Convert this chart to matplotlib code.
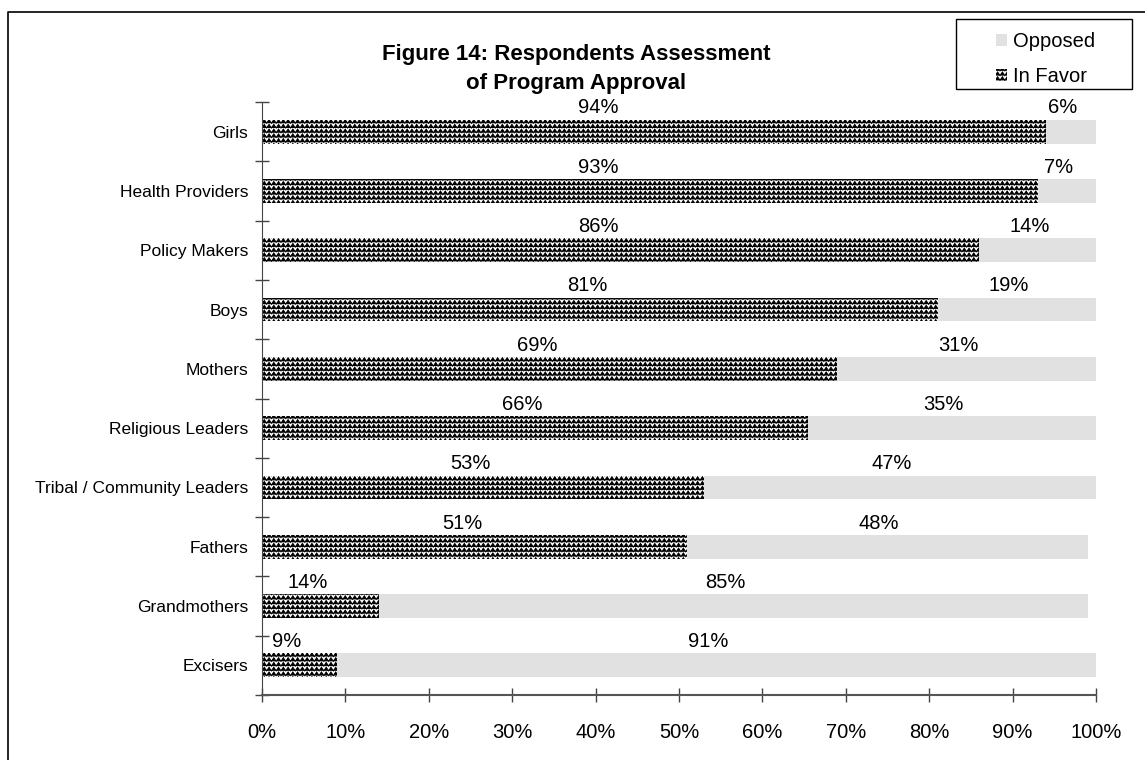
import warnings
import numpy as np
import matplotlib
matplotlib.use("Agg")
import matplotlib.pyplot as plt
import matplotlib.hatch as mhatch
from matplotlib.path import Path
from matplotlib.lines import Line2D
from matplotlib.patches import Rectangle

warnings.filterwarnings("ignore")

# Data (bottom to top)
groups = ["Excisers", "Grandmothers", "Fathers", "Tribal / Community Leaders",
          "Religious Leaders", "Mothers", "Boys", "Policy Makers",
          "Health Providers", "Girls"]
in_favor = [9, 14, 51, 53, 65.5, 69, 81, 86, 93, 94]
opposed = [91, 85, 48, 47, 34.5, 31, 19, 14, 7, 6]
xticks = [0, 10, 20, 30, 40, 50, 60, 70, 80, 90, 100]


# zigzag hatch like the old Excel fill pattern
class ZigZag(mhatch.HatchPatternBase):
    def __init__(self, hatch, density):
        self.num_lines = int(hatch.count('z') * density * 7 / 6)
        self.num_peaks = self.num_lines
        self.num_vertices = self.num_lines * (2 * self.num_peaks + 1)

    def set_vertices_and_codes(self, vertices, codes):
        n = self.num_lines
        k = self.num_peaks
        amp = 0.38 / n
        xs = np.linspace(0, 1, 2 * k + 1)
        ys = np.where(np.arange(2 * k + 1) % 2 == 0, -amp, amp)
        m = 2 * k + 1
        for i in range(n):
            y0 = (i + 0.5) / n
            vertices[i * m:(i + 1) * m, 0] = xs
            vertices[i * m:(i + 1) * m, 1] = y0 + ys
            codes[i * m] = Path.MOVETO
            codes[i * m + 1:(i + 1) * m] = Path.LINETO


mhatch._hatch_types.append(ZigZag)

plt.rcParams['font.family'] = ['Liberation Sans', 'DejaVu Sans']
plt.rcParams['hatch.linewidth'] = 0.75

fig = plt.figure(figsize=(11.45, 7.6), dpi=100)
ax = fig.add_axes([262 / 1145, 1 - 695 / 760, (1096 - 262) / 1145, (695 - 102) / 760])

y = np.arange(len(groups))
b1 = ax.barh(y, in_favor, height=0.4, color='white', edgecolor='black',
             linewidth=0, hatch='zzz', label='In Favor')
b2 = ax.barh(y, opposed, left=in_favor, height=0.4, color='#e1e1e1',
             linewidth=0, label='Opposed')

for i in range(len(groups)):
    f = in_favor[i]
    o = opposed[i]
    ax.text(min(f / 2 - 1.5, 40.3), i + 0.4, "%d%%" % int(f + 0.5),
            ha='center', va='center', fontsize=14.5)
    ax.text(f + o / 2 - 1, i + 0.4, "%d%%" % int(o + 0.5),
            ha='center', va='center', fontsize=14.5)

ax.set_xlim(0, 100)
ax.set_ylim(-0.5, len(groups) - 0.5)
ax.set_xticks(xticks)
ax.set_xticklabels(["%d%%" % t for t in xticks])
ax.set_yticks(y)
ax.set_yticklabels(groups)
ax.set_yticks(np.arange(-0.5, len(groups)), minor=True)

ax.tick_params(axis='x', direction='inout', length=10, width=1,
               color='#444444', labelsize=14.5, pad=15)
ax.tick_params(axis='y', which='major', length=0, labelsize=12.5, pad=10)
ax.tick_params(axis='y', which='minor', direction='inout', length=10,
               width=1, color='#444444')

for s in ['top', 'right']:
    ax.spines[s].set_visible(False)
ax.spines['bottom'].set_color('#555555')
ax.spines['bottom'].set_linewidth(1.5)
ax.spines['left'].set_color('#444444')

fig.text(576 / 1145, 1 - 69 / 760,
         "Figure 14: Respondents Assessment\nof Program Approval",
         ha='center', va='center', fontsize=16, fontweight='bold',
         linespacing=1.55)

# legend box
fig.add_artist(Rectangle((956 / 1145, 1 - 89 / 760), 176 / 1145, 70 / 760,
                         transform=fig.transFigure, facecolor='white',
                         edgecolor='black', linewidth=1))
leg = fig.legend([b2, b1], ['Opposed', 'In Favor'], loc='upper left',
                 bbox_to_anchor=(996 / 1145, 1 - 32 / 760), fontsize=14.5,
                 frameon=False, handlelength=0.55, handleheight=0.55,
                 handletextpad=0.3, borderpad=0, labelspacing=0.8,
                 borderaxespad=0)

# outer chart frame
fig.add_artist(Line2D([8 / 1145, 8 / 1145, 1], [0, 1 - 12 / 760, 1 - 12 / 760],
                      color='black', linewidth=1.2))

fig.savefig("out.png", dpi=100)
